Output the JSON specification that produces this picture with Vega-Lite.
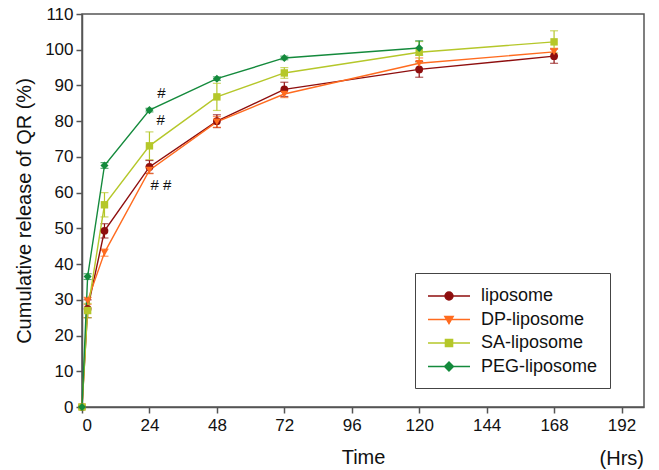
{
  "$schema": "https://vega.github.io/schema/vega-lite/v6.json",
  "width": 562,
  "height": 393,
  "autosize": {"type": "none"},
  "padding": {"left": 82, "top": 14, "right": 15, "bottom": 63},
  "background": "white",
  "config": {
    "font": "Liberation Sans",
    "view": {"stroke": "#555555", "strokeWidth": 1.5},
    "axis": {
      "grid": false,
      "domainColor": "#555555",
      "domainWidth": 1.5,
      "tickColor": "#555555",
      "tickWidth": 1.5,
      "tickSize": 6,
      "labelFont": "Liberation Sans",
      "labelFontSize": 17,
      "labelColor": "#111111",
      "titleFont": "Liberation Sans",
      "titleFontSize": 20,
      "titleFontWeight": "normal",
      "titleColor": "#111111"
    },
    "title": {"font": "Liberation Sans", "fontSize": 20, "fontWeight": "normal", "color": "#111111"}
  },
  "title": {"text": "(Hrs)", "orient": "bottom", "anchor": "end", "offset": -18},
  "data": {
    "values": [
      {"series": "liposome", "t": 0, "v": 0, "e": 0},
      {"series": "liposome", "t": 2, "v": 27.5, "e": 2.5},
      {"series": "liposome", "t": 8, "v": 49.3, "e": 2},
      {"series": "liposome", "t": 24, "v": 67.2, "e": 1.8},
      {"series": "liposome", "t": 48, "v": 80.0, "e": 1.8},
      {"series": "liposome", "t": 72, "v": 88.9, "e": 2},
      {"series": "liposome", "t": 120, "v": 94.5, "e": 2.2},
      {"series": "liposome", "t": 168, "v": 98.2, "e": 2},
      {"series": "DP-liposome", "t": 0, "v": 0, "e": 0},
      {"series": "DP-liposome", "t": 2, "v": 29.7, "e": 1},
      {"series": "DP-liposome", "t": 8, "v": 43.2, "e": 1},
      {"series": "DP-liposome", "t": 24, "v": 66.3, "e": 1},
      {"series": "DP-liposome", "t": 48, "v": 79.8, "e": 1.5},
      {"series": "DP-liposome", "t": 72, "v": 87.6, "e": 1},
      {"series": "DP-liposome", "t": 120, "v": 96.2, "e": 1.5},
      {"series": "DP-liposome", "t": 168, "v": 99.4, "e": 1},
      {"series": "SA-liposome", "t": 0, "v": 0, "e": 0},
      {"series": "SA-liposome", "t": 2, "v": 27.0, "e": 2},
      {"series": "SA-liposome", "t": 8, "v": 56.6, "e": 3.4},
      {"series": "SA-liposome", "t": 24, "v": 73.1, "e": 3.9},
      {"series": "SA-liposome", "t": 48, "v": 86.8, "e": 3.8},
      {"series": "SA-liposome", "t": 72, "v": 93.5, "e": 1.5},
      {"series": "SA-liposome", "t": 120, "v": 99.3, "e": 3},
      {"series": "SA-liposome", "t": 168, "v": 102.2, "e": 3.1},
      {"series": "PEG-liposome", "t": 0, "v": 0, "e": 0},
      {"series": "PEG-liposome", "t": 2, "v": 36.5, "e": 0.8},
      {"series": "PEG-liposome", "t": 8, "v": 67.6, "e": 0.8},
      {"series": "PEG-liposome", "t": 24, "v": 83.1, "e": 0.5},
      {"series": "PEG-liposome", "t": 48, "v": 91.9, "e": 0.5},
      {"series": "PEG-liposome", "t": 72, "v": 97.7, "e": 0.5},
      {"series": "PEG-liposome", "t": 120, "v": 100.5, "e": 2}
    ]
  },
  "encoding": {
    "x": {
      "field": "t", "type": "quantitative", "title": "Time",
      "scale": {"domain": [0, 200], "nice": false, "zero": false},
      "axis": {"values": [0, 24, 48, 72, 96, 120, 144, 168, 192], "labelPadding": 4, "titlePadding": 14}
    },
    "y": {
      "field": "v", "type": "quantitative", "title": "Cumulative release of QR (%)",
      "scale": {"domain": [0, 110], "nice": false},
      "axis": {"values": [0, 10, 20, 30, 40, 50, 60, 70, 80, 90, 100, 110], "labelPadding": 3, "titlePadding": 10}
    },
    "color": {
      "field": "series", "type": "nominal",
      "scale": {
        "domain": ["liposome", "DP-liposome", "SA-liposome", "PEG-liposome"],
        "range": ["#8e0e0e", "#ff6b1f", "#b5c72a", "#148a3c"]
      },
      "legend": {
        "title": null,
        "orient": "none",
        "legendX": 333,
        "legendY": 259,
        "direction": "vertical",
        "strokeColor": "#444444",
        "padding": 12,
        "labelFontSize": 18,
        "labelFont": "Liberation Sans",
        "labelColor": "#111111",
        "labelOffset": 21,
        "symbolOffset": 11,
        "rowPadding": 3.5,
        "symbolSize": 400,
        "symbolStrokeWidth": 1.4,
        "symbolOpacity": 1,
        "encode": {
          "symbols": {
            "update": {
              "shape": {"signal": "datum.value === 'liposome' ? 'M-2.1,0H2.1M0.4,0A0.4,0.4,0,1,1,-0.4,0A0.4,0.4,0,1,1,0.4,0Z' : datum.value === 'DP-liposome' ? 'M-2.1,0H2.1M-0.42,-0.3L0.42,-0.3L0,0.42Z' : datum.value === 'SA-liposome' ? 'M-2.1,0H2.1M-0.36,-0.36H0.36V0.36H-0.36Z' : 'M-2.1,0H2.1M0,-0.45L0.45,0L0,0.45L-0.45,0Z'"},
              "fill": {"scale": "color", "field": "value"},
              "stroke": {"scale": "color", "field": "value"}
            }
          }
        }
      }
    }
  },
  "layer": [
    {
      "transform": [{"filter": "datum.e > 0"}],
      "mark": {"type": "errorbar", "ticks": {"size": 8, "thickness": 1.2}, "thickness": 1.2},
      "encoding": {
        "y": {"field": "v", "type": "quantitative"},
        "yError": {"field": "e"}
      }
    },
    {
      "mark": {"type": "line", "strokeWidth": 1.4}
    },
    {
      "transform": [{"filter": "datum.series === 'liposome'"}],
      "mark": {"type": "point", "filled": true, "size": 60, "opacity": 1, "shape": "circle"}
    },
    {
      "transform": [{"filter": "datum.series === 'DP-liposome'"}],
      "mark": {"type": "point", "filled": true, "size": 60, "opacity": 1, "shape": "triangle-down"}
    },
    {
      "transform": [{"filter": "datum.series === 'SA-liposome'"}],
      "mark": {"type": "point", "filled": true, "size": 55, "opacity": 1, "shape": "square"}
    },
    {
      "transform": [{"filter": "datum.series === 'PEG-liposome'"}],
      "mark": {"type": "point", "filled": true, "size": 65, "opacity": 1, "shape": "diamond"}
    },
    {
      "data": {
        "values": [
          {"t": 28.3, "v": 87.9, "label": "#"},
          {"t": 28.0, "v": 80.2, "label": "#"},
          {"t": 28.1, "v": 62.1, "label": "# #"}
        ]
      },
      "mark": {"type": "text", "fontSize": 15, "font": "Liberation Sans", "baseline": "middle", "align": "center"},
      "encoding": {
        "x": {"field": "t", "type": "quantitative"},
        "y": {"field": "v", "type": "quantitative"},
        "text": {"field": "label"},
        "color": {"value": "#111111"}
      }
    }
  ]
}
